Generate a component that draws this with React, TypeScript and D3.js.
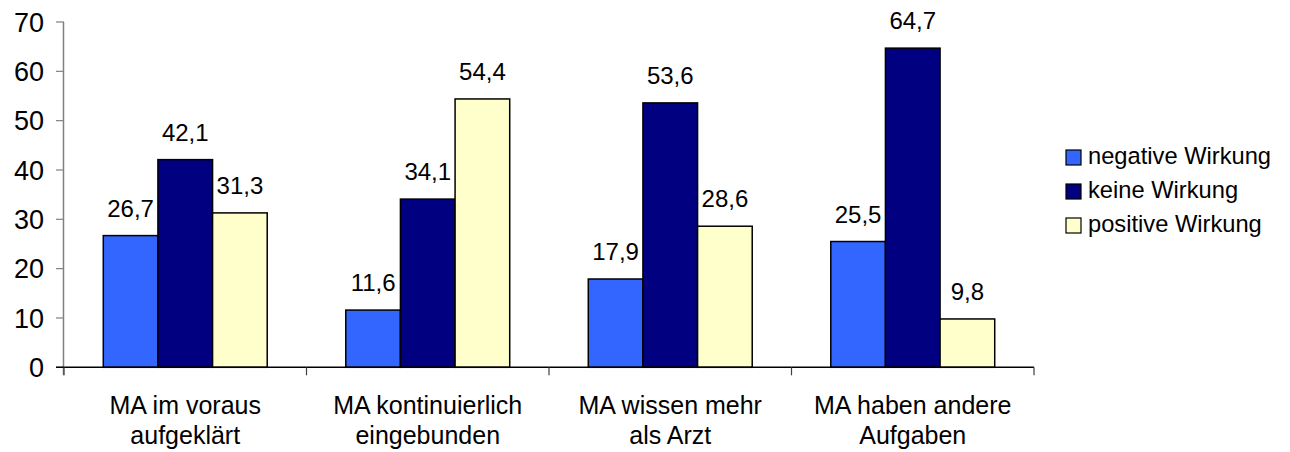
import React from "react";
import * as d3 from "d3";

const categories: string[][] = [
  ["MA im voraus", "aufgeklärt"],
  ["MA kontinuierlich", "eingebunden"],
  ["MA wissen mehr", "als Arzt"],
  ["MA haben andere", "Aufgaben"],
];
const seriesNames = ["negative Wirkung", "keine Wirkung", "positive Wirkung"];
const negative = [26.7, 11.6, 17.9, 25.5];
const keine = [42.1, 34.1, 53.6, 64.7];
const positive = [31.3, 54.4, 28.6, 9.8];
const yTicks = [0, 10, 20, 30, 40, 50, 60, 70];
const colors = ["#3366FF", "#000080", "#FFFFCC"];

const W = 1290;
const H = 452;
const FONT = "'Liberation Sans', Arial, Helvetica, sans-serif";

export default function App() {
  const series = [negative, keine, positive];
  const catIdx = categories.map((_, i) => String(i));
  const x = d3.scaleBand<string>().domain(catIdx).range([64, 1034]).padding(0);
  const bw = x.bandwidth();
  const inner = d3
    .scaleBand<string>()
    .domain(seriesNames)
    .range([bw * 0.162, bw * 0.838])
    .padding(0);
  const y = d3.scaleLinear().domain([0, 70]).range([367.3, 22]);
  const y0 = y(0);
  const fmt = (v: number) => v.toFixed(1).replace(".", ",");

  return (
    <svg
      width={W}
      height={H}
      style={{ position: "absolute", left: 0, top: 0, background: "#fff" }}
      fontFamily={FONT}
    >
      {/* y axis */}
      <line x1={63.5} x2={63.5} y1={y(70)} y2={y0 + 8} stroke="#808080" strokeWidth={1.5} />
      {yTicks.map((t) => (
        <g key={t}>
          <line x1={56} x2={64} y1={y(t)} y2={y(t)} stroke="#808080" strokeWidth={1.2} />
          <text x={44} y={y(t)} dy="0.36em" textAnchor="end" fontSize={27} fill="#000">
            {t}
          </text>
        </g>
      ))}
      {/* bars */}
      {categories.map((_, ci) => (
        <g key={ci} transform={`translate(${x(String(ci))},0)`}>
          {series.map((s, si) => {
            const v = s[ci];
            const bx = inner(seriesNames[si])!;
            const by = y(v);
            return (
              <g key={si}>
                <rect
                  x={bx}
                  y={by}
                  width={inner.bandwidth()}
                  height={y0 - by}
                  fill={colors[si]}
                  stroke="#000"
                  strokeWidth={1.5}
                />
                <text
                  x={bx + inner.bandwidth() / 2}
                  y={by - 19}
                  textAnchor="middle"
                  fontSize={24}
                  fill="#000"
                >
                  {fmt(v)}
                </text>
              </g>
            );
          })}
        </g>
      ))}
      {/* x axis */}
      <line x1={56} x2={1034} y1={y0} y2={y0} stroke="#000" strokeWidth={1.5} />
      {d3.range(categories.length + 1).map((i) => {
        const xx = 64 + i * bw;
        return <line key={i} x1={xx} x2={xx} y1={y0} y2={y0 + 8} stroke="#404040" strokeWidth={1.2} />;
      })}
      {categories.map((lines, ci) => (
        <text
          key={ci}
          x={x(String(ci))! + bw / 2}
          textAnchor="middle"
          fontSize={25}
          fill="#000"
        >
          {lines.map((l, li) => (
            <tspan key={li} x={x(String(ci))! + bw / 2} y={414 + li * 30}>
              {l}
            </tspan>
          ))}
        </text>
      ))}
      {/* legend */}
      {seriesNames.map((n, i) => (
        <g key={n} transform={`translate(1066,${150 + i * 34})`}>
          <rect x={0} y={0} width={15} height={15} fill={colors[i]} stroke="#000" strokeWidth={1.2} />
          <text x={22} y={14} fontSize={23.7} fill="#000">
            {n}
          </text>
        </g>
      ))}
    </svg>
  );
}
